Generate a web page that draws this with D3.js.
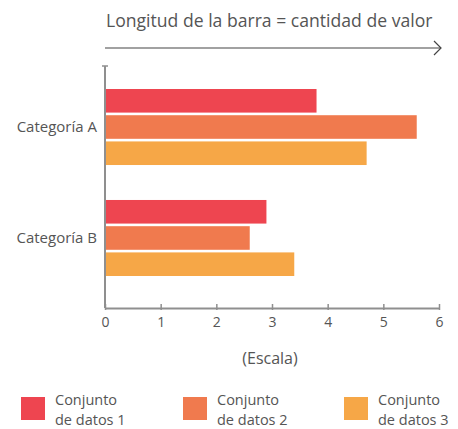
<!DOCTYPE html>
<html>
<head>
<meta charset="utf-8">
<script src="https://cdn.jsdelivr.net/npm/d3@7"></script>
<style>
  html, body { margin: 0; padding: 0; background: #fff; }
  svg text { font-family: "Open Sans", sans-serif; fill: #555; }
</style>
</head>
<body>
<div id="chart"></div>
<script>
const categories = ['Categoría A', 'Categoría B'];
const seriesNames = ['Conjunto de datos 1', 'Conjunto de datos 2', 'Conjunto de datos 3'];
const series1 = [3.8, 2.9];
const series2 = [5.6, 2.6];
const series3 = [4.7, 3.4];
const xTicks = [0, 1, 2, 3, 4, 5, 6];
const colors = ['#ee4550', '#f07a4e', '#f6a747'];

const width = 458;
const height = 429;
const axisLeft = 105;
const axisRight = 439;
const axisTop = 66;
const axisBottom = 308;
const axisColor = '#8f8f8f';

const allSeries = [series1, series2, series3];

const svg = d3.select('#chart').append('svg')
    .attr('width', width)
    .attr('height', height);

const x = d3.scaleLinear().domain([0, 6]).range([axisLeft, axisRight]);

const y = d3.scaleBand()
    .domain(categories)
    .range([89, 276])
    .paddingInner(0.315)
    .paddingOuter(0);

const ySub = d3.scaleBand()
    .domain(d3.range(seriesNames.length))
    .range([0, y.bandwidth()])
    .paddingInner(0.1)
    .paddingOuter(0);

// title and arrow
svg.append('text')
    .attr('x', axisLeft + 1)
    .attr('y', 27)
    .style('font-size', '17.6px')
    .text('Longitud de la barra = cantidad de valor');

svg.append('line')
    .attr('x1', axisLeft).attr('x2', 441)
    .attr('y1', 48).attr('y2', 48)
    .attr('stroke', '#444').attr('stroke-width', 1.2);
svg.append('path')
    .attr('d', 'M434,41 L441,48 L434,55')
    .attr('fill', 'none')
    .attr('stroke', '#444').attr('stroke-width', 1.2);

// bars
const groups = svg.selectAll('.cat')
    .data(categories)
    .enter()
    .append('g')
    .attr('class', 'cat')
    .attr('transform', d => `translate(0,${y(d)})`);

groups.selectAll('rect')
    .data((d, i) => allSeries.map((s, j) => ({ value: s[i], series: j })))
    .enter()
    .append('rect')
    .attr('x', x(0))
    .attr('y', d => ySub(d.series))
    .attr('width', d => x(d.value) - x(0))
    .attr('height', ySub.bandwidth())
    .attr('fill', d => colors[d.series]);

// category labels
svg.selectAll('.cat-label')
    .data(categories)
    .enter()
    .append('text')
    .attr('class', 'cat-label')
    .attr('x', 97)
    .attr('y', d => y(d) + y.bandwidth() / 2)
    .attr('dy', '0.35em')
    .attr('text-anchor', 'end')
    .style('font-size', '15px')
    .text(d => d);

// vertical axis
svg.append('line')
    .attr('x1', axisLeft).attr('x2', axisLeft)
    .attr('y1', axisTop).attr('y2', axisBottom)
    .attr('stroke', axisColor).attr('stroke-width', 2);
svg.append('line')
    .attr('x1', axisLeft - 3).attr('x2', axisLeft + 3)
    .attr('y1', axisTop).attr('y2', axisTop)
    .attr('stroke', axisColor).attr('stroke-width', 1.5);

// x axis
const xAxis = svg.append('g')
    .attr('transform', `translate(0,${axisBottom})`)
    .call(d3.axisBottom(x).tickValues(xTicks).tickFormat(d3.format('d')).tickSize(0).tickPadding(9));
xAxis.select('.domain').attr('stroke', axisColor).attr('stroke-width', 2);
xAxis.selectAll('.tick line')
    .attr('y1', -4).attr('y2', 2)
    .attr('stroke', axisColor).attr('stroke-width', 1.5);
xAxis.selectAll('.tick text')
    .style('font-size', '14px')
    .style('font-family', '"Open Sans", sans-serif')
    .attr('fill', '#555');

svg.append('text')
    .attr('x', 270)
    .attr('y', 358)
    .attr('dy', '0.35em')
    .attr('text-anchor', 'middle')
    .style('font-size', '16px')
    .text('(Escala)');

// legend
const legendX = [21, 183, 344];
const legend = svg.selectAll('.legend')
    .data(seriesNames)
    .enter()
    .append('g')
    .attr('class', 'legend')
    .attr('transform', (d, i) => `translate(${legendX[i]},397)`);

legend.append('rect')
    .attr('width', 24)
    .attr('height', 23)
    .attr('fill', (d, i) => colors[i]);

legend.selectAll('text')
    .data(d => {
        const parts = d.split(' ');
        return [parts[0], parts.slice(1).join(' ')];
    })
    .enter()
    .append('text')
    .attr('x', 34)
    .attr('y', (d, i) => 8 + i * 20)
    .style('font-size', '14.5px')
    .text(d => d);
</script>
</body>
</html>
